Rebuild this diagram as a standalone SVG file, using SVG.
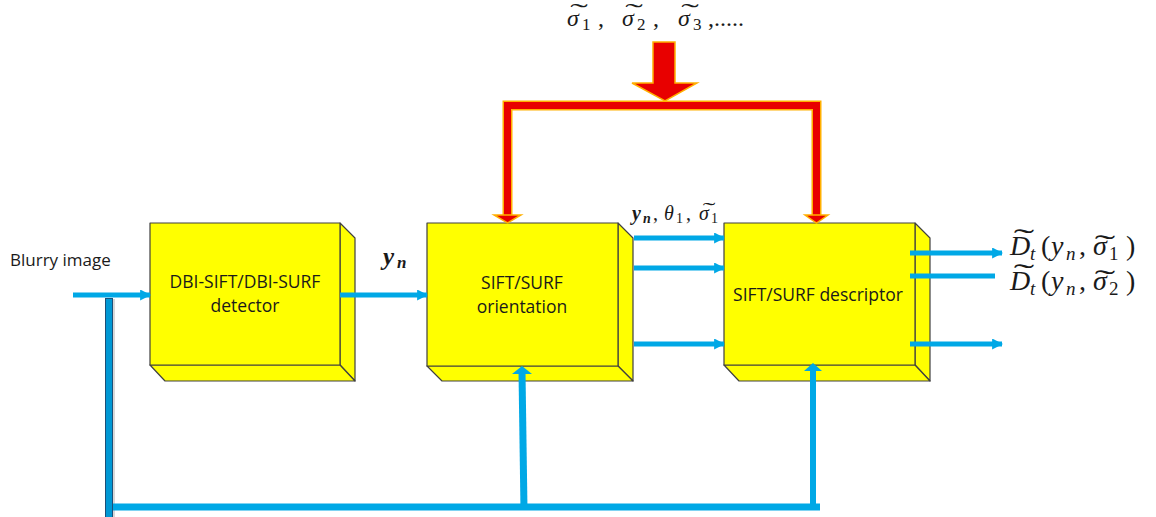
<svg xmlns="http://www.w3.org/2000/svg" width="1156" height="517" viewBox="0 0 1156 517">
  <defs>
    <style>
      .face { fill: #ffff00; stroke: #404040; stroke-width: 1.2; stroke-linejoin: round; }
      .label { font-family: "Open Sans", "Liberation Sans", sans-serif; font-size: 17.5px; fill: #1a1a1a; text-anchor: middle; }
      .plain { font-family: "Open Sans", "Liberation Sans", sans-serif; font-size: 17px; fill: #1a1a1a; }
      .math { font-family: "Liberation Serif", "DejaVu Serif", serif; fill: #1a1a1a; }
      .it { font-style: italic; }
      .bi { font-style: italic; font-weight: bold; }
      .tl { font-family: "Liberation Serif", "DejaVu Serif", serif; fill: #1a1a1a; text-anchor: middle; }
      .blue { stroke: #00a8e6; stroke-width: 5; fill: none; }
      .bluehead { fill: #00a8e6; }
      .redout { stroke: #ffb000; stroke-width: 10; fill: none; stroke-linejoin: miter; }
      .redin { stroke: #e80000; stroke-width: 7; fill: none; stroke-linejoin: miter; }
      .redhead { fill: #e80000; stroke: #ffb000; stroke-width: 1.5; stroke-linejoin: miter; }
    </style>
    <marker id="ah" viewBox="0 0 10 10" refX="9" refY="5" markerWidth="2.2" markerHeight="2.2" orient="auto" markerUnits="strokeWidth">
      <path d="M0,0 L10,5 L0,10 Z" class="bluehead"/>
    </marker>
  </defs>

  <!-- processing blocks: front face, right side, bottom side -->
  <g id="detector">
    <polygon class="face" points="340,223 355,238 355,381 340,365"/>
    <polygon class="face" points="150,365 340,365 355,381 165,381"/>
    <rect class="face" x="150" y="223" width="190" height="142"/>
    <text class="label" x="245" y="288">DBI-SIFT/DBI-SURF</text>
    <text class="label" x="245" y="312">detector</text>
  </g>

  <g id="orientation">
    <polygon class="face" points="618,223 633,238 633,381 618,366"/>
    <polygon class="face" points="427,366 618,366 633,381 442,381"/>
    <rect class="face" x="427" y="223" width="191" height="143"/>
    <text class="label" x="522" y="289">SIFT/SURF</text>
    <text class="label" x="522" y="313">orientation</text>
  </g>

  <g id="descriptor">
    <polygon class="face" points="915,223 930,238 930,381 915,365"/>
    <polygon class="face" points="724,365 915,365 930,381 739,381"/>
    <rect class="face" x="724" y="223" width="191" height="142"/>
    <text class="label" x="818" y="301">SIFT/SURF descriptor</text>
  </g>

  <!-- connectors -->
  <g id="connectors">
    <!-- scale parameter feed (red) -->
    <g id="sigma-feed">
      <polyline class="redout" points="507.5,216 507.5,105.5 816.5,105.5 816.5,216"/>
      <polyline class="redin" points="507.5,216 507.5,105.5 816.5,105.5 816.5,216"/>
      <polygon class="redhead" points="494,215 521,215 507.5,223"/>
      <polygon class="redhead" points="805,215 828,215 816.5,223"/>
      <polygon class="redhead" points="653,42 675,42 675,83 697,83 665,101 632,83 653,83"/>
    </g>

    <!-- input -->
    <line class="blue" x1="73" y1="295" x2="150" y2="295" marker-end="url(#ah)"/>
    <!-- detector to orientation -->
    <line class="blue" x1="340" y1="295" x2="427" y2="295" marker-end="url(#ah)"/>
    <!-- orientation to descriptor -->
    <line class="blue" x1="634" y1="238" x2="724" y2="238" marker-end="url(#ah)"/>
    <line class="blue" x1="634" y1="268" x2="724" y2="268" marker-end="url(#ah)"/>
    <line class="blue" x1="634" y1="344" x2="724" y2="344" marker-end="url(#ah)"/>
    <!-- descriptor outputs -->
    <line class="blue" x1="910" y1="253" x2="1002" y2="253" marker-end="url(#ah)"/>
    <line class="blue" x1="910" y1="276" x2="995" y2="276"/>
    <line class="blue" x1="910" y1="344" x2="1002" y2="344" marker-end="url(#ah)"/>

    <!-- image feedback path -->
    <rect x="111" y="299" width="4" height="220" fill="#d8d8d8"/>
    <rect x="105.5" y="298.5" width="7" height="220" fill="#0098d4" stroke="#1c4f78" stroke-width="1"/>
    <line x1="113" y1="507" x2="820" y2="507" stroke="#00a8e6" stroke-width="7"/>
    <line x1="524" y1="510" x2="522" y2="372" stroke="#00a8e6" stroke-width="7"/>
    <polygon class="bluehead" points="512,374 532,374 522,366"/>
    <line x1="813" y1="510" x2="813" y2="370" stroke="#00a8e6" stroke-width="6"/>
    <polygon class="bluehead" points="804,371 822,371 813,363"/>
  </g>

  <!-- labels -->
  <text class="plain" x="10" y="266">Blurry image</text>

  <!-- scale set: sigma~1, sigma~2, sigma~3, ... -->
  <g id="sigma-set" class="math" font-size="24">
    <text class="it" x="567" y="26">σ</text>
    <text x="582" y="30" font-size="17">1</text>
    <text x="598" y="26">,</text>
    <text class="it" x="622" y="26">σ</text>
    <text x="637" y="30" font-size="17">2</text>
    <text x="653" y="26">,</text>
    <text class="it" x="678" y="26">σ</text>
    <text x="693" y="30" font-size="17">3</text>
    <text x="708" y="26">,.....</text>
    <text class="tl" transform="translate(579,20) scale(2.2,1)">˜</text>
    <text class="tl" transform="translate(634,20) scale(2.2,1)">˜</text>
    <text class="tl" transform="translate(690,20) scale(2.2,1)">˜</text>
  </g>

  <!-- keypoint location -->
  <g id="yn-label" class="math" fill="#1f1f3a">
    <text class="bi" x="383" y="265" font-size="25">y</text>
    <text class="bi" x="397" y="268" font-size="17">n</text>
  </g>

  <!-- keypoint, orientation, scale -->
  <g id="kp-label" class="math" font-size="20">
    <text class="bi" x="632" y="220">y</text>
    <text class="bi" x="643" y="223" font-size="14">n</text>
    <text x="653" y="220">,</text>
    <text class="it" x="664" y="220">θ</text>
    <text x="676" y="223" font-size="14">1</text>
    <text x="686" y="220">,</text>
    <text class="it" x="699" y="220">σ</text>
    <text x="711" y="223" font-size="14">1</text>
    <text class="tl" transform="translate(709,217) scale(1.9,1)">˜</text>
  </g>

  <!-- descriptor outputs -->
  <g id="d1-label" class="math" font-size="28">
    <text class="it" x="1010" y="255">D</text>
    <text class="it" x="1030" y="260" font-size="19">t</text>
    <text x="1041" y="255">(</text>
    <text class="it" x="1051" y="255">y</text>
    <text class="it" x="1066" y="260" font-size="19">n</text>
    <text x="1079" y="255">,</text>
    <text class="it" x="1093" y="255">σ</text>
    <text x="1109" y="260" font-size="19">1</text>
    <text x="1126" y="255">)</text>
    <text class="tl" transform="translate(1024,248) scale(2.2,1)">˜</text>
    <text class="tl" transform="translate(1105,254) scale(2.2,1)">˜</text>
  </g>
  <g id="d2-label" class="math" font-size="28">
    <text class="it" x="1010" y="290">D</text>
    <text class="it" x="1030" y="295" font-size="19">t</text>
    <text x="1041" y="290">(</text>
    <text class="it" x="1051" y="290">y</text>
    <text class="it" x="1066" y="295" font-size="19">n</text>
    <text x="1079" y="290">,</text>
    <text class="it" x="1093" y="290">σ</text>
    <text x="1109" y="295" font-size="19">2</text>
    <text x="1126" y="290">)</text>
    <text class="tl" transform="translate(1024,283) scale(2.2,1)">˜</text>
    <text class="tl" transform="translate(1105,289) scale(2.2,1)">˜</text>
  </g>
</svg>
